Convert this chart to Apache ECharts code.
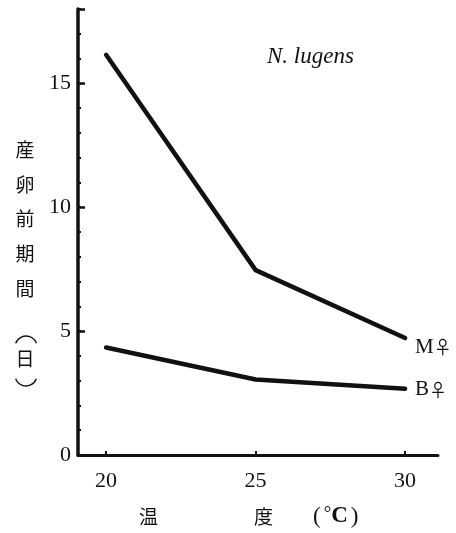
<!DOCTYPE html>
<html>
<head>
<meta charset="utf-8">
<script src="https://cdn.jsdelivr.net/npm/echarts@6/dist/echarts.min.js"></script>
<style>
  html, body { margin: 0; padding: 0; background: #fff; }
  #chart { width: 456px; height: 533px; }
</style>
</head>
<body>
<div id="chart"></div>
<script>
// temperature (°C) on x, pre-oviposition period (days) on y
const temps = [20, 25, 30];
const macroFemale = [16.15, 7.46, 4.72];   // M♀
const brachyFemale = [4.34, 3.05, 2.67];   // B♀
const xTickValues = [20, 25, 30];
const yTickValues = [0, 5, 10, 15];
const yTitleChars = ['産', '卵', '前', '期', '間', '日'];

const serif = "'Liberation Serif', 'Noto Sans CJK JP', serif";
const cjk = "'Noto Sans CJK JP'";
const ink = '#111';

const toPairs = (ys) => temps.map((t, i) => [t, ys[i]]);

// y title, one character per line (vertical writing)
const yTitleY = [150, 185, 219, 254, 289, 359];
const titleTexts = yTitleChars.map((ch, i) => ({
    type: 'text',
    x: 25,
    y: yTitleY[i],
    style: { text: ch, font: '19px ' + cjk, fill: ink, align: 'center', verticalAlign: 'middle' }
}));

// vertical-writing brackets round 日
const bracket = (cy, start, end) => ({
    type: 'arc',
    shape: { cx: 26, cy: cy, r: 11, startAngle: start, endAngle: end, clockwise: true },
    style: { stroke: ink, lineWidth: 1.4, fill: null }
});
titleTexts.push(
    bracket(347, Math.PI + 0.35, 2 * Math.PI - 0.35),
    bracket(375, 0.35, Math.PI - 0.35)
);

// x title: 温 ... 度 (°C)
titleTexts.push(
    { type: 'text', left: 139, top: 507, style: { text: '温', font: '19px ' + cjk, fill: ink } },
    { type: 'text', left: 254, top: 507, style: { text: '度', font: '19px ' + cjk, fill: ink } },
    {
        type: 'text', left: 313, top: 505,
        style: {
            text: '{p|(}{d|°}{c|C}{p|)}',
            rich: {
                p: { fontFamily: serif, fontSize: 23, fill: ink, padding: [0, 3, 0, 3] },
                d: { fontFamily: serif, fontSize: 19, fill: ink, verticalAlign: 'top' },
                c: { fontFamily: serif, fontSize: 23, fontWeight: 'bold', fill: ink }
            }
        }
    }
);

const endLabel = (letter, dy) => ({
    show: true,
    formatter: '{l|' + letter + '}{f|♀}',
    distance: 10,
    offset: [0, dy],
    rich: {
        l: { fontFamily: serif, fontSize: 21, color: ink },
        f: { fontFamily: cjk, fontSize: 18, color: ink }
    }
});

const chart = echarts.init(document.getElementById('chart'));

const option = {
    animation: false,
    grid: { left: 78, right: 18, top: 9, bottom: 78 },
    title: {
        text: 'N. lugens',
        left: 262,
        top: 40,
        textStyle: { fontFamily: serif, fontStyle: 'italic', fontWeight: 'normal', fontSize: 23, color: ink }
    },
    xAxis: {
        type: 'value',
        min: 19.06,
        max: 31.1,
        splitLine: { show: false },
        axisLine: { lineStyle: { color: ink, width: 3 } },
        axisTick: { show: true, inside: true, length: 4, customValues: xTickValues, lineStyle: { color: ink, width: 2 } },
        axisLabel: { customValues: xTickValues, margin: 15, fontFamily: serif, fontSize: 22, color: ink }
    },
    yAxis: [
        {
            type: 'value',
            min: 0,
            max: 18,
            interval: 1,
            splitLine: { show: false },
            axisLine: { lineStyle: { color: ink, width: 3.5 } },
            axisTick: { inside: true, length: 3, lineStyle: { color: ink, width: 2 } },
            axisLabel: {
                margin: 7,
                fontFamily: serif,
                fontSize: 22,
                color: ink,
                formatter: (v) => (yTickValues.includes(v) ? String(v) : '')
            }
        },
        {
            type: 'value',
            position: 'left',
            min: 0,
            max: 18,
            interval: 5,
            splitLine: { show: false },
            axisLine: { show: false },
            axisTick: { inside: true, length: 7, lineStyle: { color: ink, width: 2.5 } },
            axisLabel: { show: false }
        }
    ],
    graphic: titleTexts,
    series: [
        {
            name: 'M♀',
            type: 'line',
            data: toPairs(macroFemale),
            symbol: 'none',
            lineStyle: { color: ink, width: 4.5, cap: 'round', join: 'round' },
            endLabel: endLabel('M', 9)
        },
        {
            name: 'B♀',
            type: 'line',
            data: toPairs(brachyFemale),
            symbol: 'none',
            lineStyle: { color: ink, width: 4.5, cap: 'round', join: 'round' },
            endLabel: endLabel('B', 1)
        }
    ]
};

chart.setOption(option);
</script>
</body>
</html>
